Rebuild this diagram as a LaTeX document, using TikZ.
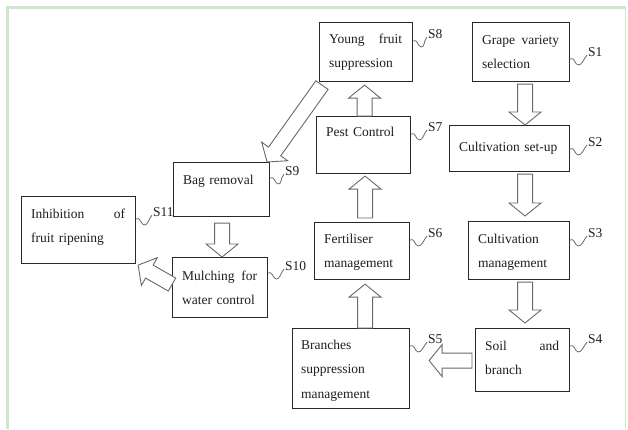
\documentclass[tikz,border=0pt]{standalone}
\usepackage{fontspec}
\setmainfont{Liberation Serif}
\usetikzlibrary{calc}

\definecolor{framegreen}{RGB}{204,232,204}
\definecolor{boxline}{RGB}{40,40,40}
\definecolor{arrowline}{RGB}{105,105,105}
\definecolor{inkgray}{RGB}{30,30,30}

% outlined block arrow from #1 (tail) to #2 (tip)
\newcommand\fatarrow[2]{%
  \begin{scope}
    \coordinate (fa) at #1;
    \coordinate (fb) at #2;
    \draw[fatline]
      ($(fa)!7.5pt!90:(fb)$) --
      ($(fb)!13pt!(fa)!7.5pt!-90:(fa)$) --
      ($(fb)!13pt!(fa)!16pt!-90:(fa)$) --
      (fb) --
      ($(fb)!13pt!(fa)!16pt!90:(fa)$) --
      ($(fb)!13pt!(fa)!7.5pt!90:(fa)$) --
      ($(fa)!7.5pt!-90:(fb)$) -- cycle;
  \end{scope}}

% wavy leader from a box's right edge to its step tag
\newcommand\tagline[2]{%
  \draw[squigline] ($(#1.east |- #2.base)+(0,3)$)
    .. controls +(4,-3) and +(-3,0) .. ++(8,6)
    .. controls +(4,0) and +(-4,5) .. ($(#2.base west)+(-1,-1)$);}

\begin{document}
\begin{tikzpicture}[x=1pt,y=-1pt,
  stepbox/.style={draw=boxline, line width=1.1pt, fill=white, inner sep=0pt, anchor=north west},
  boxtext/.style={anchor=base west, inner sep=0pt, align=left, text=inkgray,
    font=\fontsize{13.5}{24.5}\selectfont},
  tagtext/.style={anchor=base west, inner sep=0pt, text=inkgray,
    font=\fontsize{13.5}{14}\selectfont},
  fatline/.style={draw=arrowline, fill=white, line width=0.9pt, line join=miter},
  squigline/.style={draw=arrowline, line width=0.8pt}]

\useasboundingbox (0,0) rectangle (628,429);

% page frame
\draw[framegreen, line width=3pt] (7.5,429) -- (7.5,7) -- (626,7);
\draw[framegreen, line width=0.8pt] (625.5,7) -- (625.5,429);

% step boxes
\node[stepbox, minimum width=97,  minimum height=59] (s1)  at (472,22)  {};
\node[stepbox, minimum width=120, minimum height=46] (s2)  at (449,125) {};
\node[stepbox, minimum width=101, minimum height=58] (s3)  at (468,221) {};
\node[stepbox, minimum width=94,  minimum height=63] (s4)  at (475,328) {};
\node[stepbox, minimum width=117, minimum height=80] (s5)  at (292,328) {};
\node[stepbox, minimum width=95,  minimum height=57] (s6)  at (314,222) {};
\node[stepbox, minimum width=94,  minimum height=57] (s7)  at (316,116) {};
\node[stepbox, minimum width=93,  minimum height=59] (s8)  at (319,22)  {};
\node[stepbox, minimum width=96,  minimum height=54] (s9)  at (173,162) {};
\node[stepbox, minimum width=95,  minimum height=60] (s10) at (172,257) {};
\node[stepbox, minimum width=114, minimum height=67] (s11) at (21,196)  {};

% box texts
\node[boxtext, text width=77]  (t1)  at (482,44)  {Grape\hfill variety\\selection};
\node[boxtext, text width=100] (t2)  at (459,151) {Cultivation set-up};
\node[boxtext, text width=81]  (t3)  at (478,243) {Cultivation\\management};
\node[boxtext, text width=74]  (t4)  at (485,350) {Soil\hfill and\\branch};
\node[boxtext, text width=97]  (t5)  at (301,349) {Branches\\suppression\\management};
\node[boxtext, text width=75]  (t6)  at (324,243) {Fertiliser\\management};
\node[boxtext, text width=74]  (t7)  at (326,136) {Pest Control};
\node[boxtext, text width=73]  (t8)  at (329,43)  {Young\hfill fruit\\suppression};
\node[boxtext, text width=76]  (t9)  at (183,184) {Bag removal};
\node[boxtext, text width=75]  (t10) at (182,280) {Mulching\hfill for\\water control};
\node[boxtext, text width=94]  (t11) at (31,218)  {Inhibition\hfill of\\fruit ripening};

% step tags
\node[tagtext] (l1)  at (588,56)  {S1};
\node[tagtext] (l2)  at (588,146) {S2};
\node[tagtext] (l3)  at (588,237) {S3};
\node[tagtext] (l4)  at (588,343) {S4};
\node[tagtext] (l5)  at (428,343) {S5};
\node[tagtext] (l6)  at (428,237) {S6};
\node[tagtext] (l7)  at (428,131) {S7};
\node[tagtext] (l8)  at (428,38)  {S8};
\node[tagtext] (l9)  at (285,175) {S9};
\node[tagtext] (l10) at (285,270) {S10};
\node[tagtext] (l11) at (153,216) {S11};

\tagline{s1}{l1}
\tagline{s2}{l2}
\tagline{s3}{l3}
\tagline{s4}{l4}
\tagline{s5}{l5}
\tagline{s6}{l6}
\tagline{s7}{l7}
\tagline{s8}{l8}
\tagline{s9}{l9}
\tagline{s10}{l10}
\tagline{s11}{l11}

% process flow
\fatarrow{($(s1.south)+(4,2)$)}{($(s2.north)+(15.5,0)$)}
\fatarrow{($(s2.south)+(15.5,2)$)}{($(s3.north)+(6,-5)$)}
\fatarrow{($(s3.south)+(6,2)$)}{($(s4.north)+(2.5,-5)$)}
\fatarrow{($(s4.west)+(-3,0.5)$)}{($(s5.east)+(19,-8)$)}
\fatarrow{($(s5.north)+(14,0)$)}{($(s6.south)+(3,4)$)}
\fatarrow{($(s6.north)+(3,-4)$)}{($(s7.south)+(1.5,2)$)}
\fatarrow{($(s7.north)+(1,0)$)}{($(s8.south)+(-1.5,3)$)}
\fatarrow{($(s8.south west)+(3,3)$)}{($(s9.north east)+(-3,0)$)}
\fatarrow{($(s9.south)+(0.5,6)$)}{($(s10.north)+(2,0)$)}
\fatarrow{($(s10.west)+(0,-3)$)}{($(s11.south east)+(2,1)$)}

\end{tikzpicture}
\end{document}
